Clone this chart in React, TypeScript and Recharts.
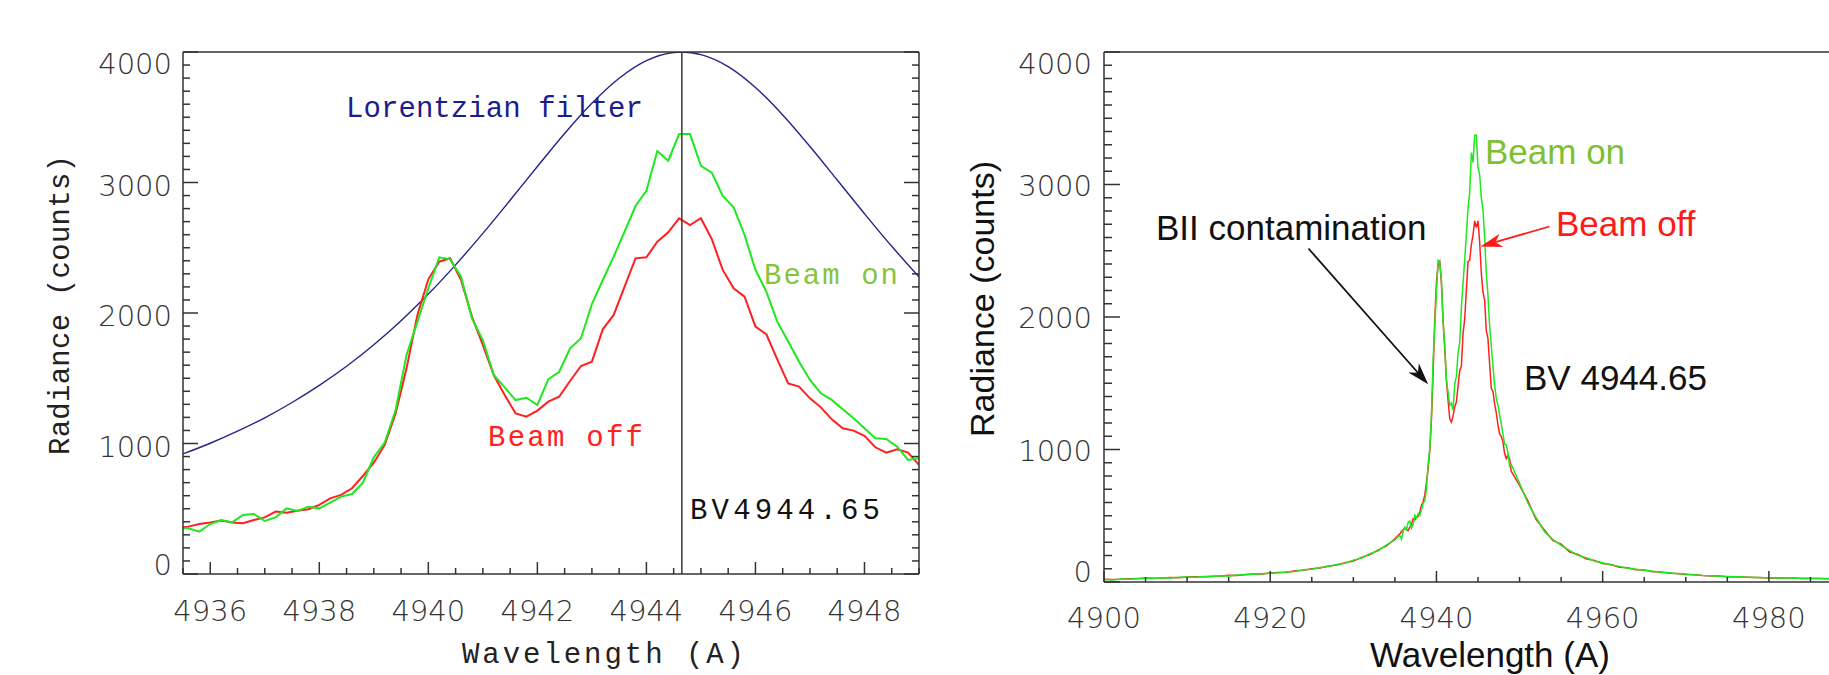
import React from 'react';
import { LineChart, Line, XAxis, YAxis, ReferenceLine } from 'recharts';

// ---- left panel: close-up, 0.2 A sampling ----
const zoomWl = [
  4935.5, 4935.6, 4935.8, 4936.0, 4936.2, 4936.4, 4936.6, 4936.8, 4937.0, 4937.2, 4937.4, 4937.6,
  4937.8, 4938.0, 4938.2, 4938.4, 4938.6, 4938.8, 4939.0, 4939.2, 4939.4, 4939.6, 4939.8, 4940.0,
  4940.2, 4940.4, 4940.6, 4940.8, 4941.0, 4941.2, 4941.4, 4941.6, 4941.8, 4942.0, 4942.2, 4942.4,
  4942.6, 4942.8, 4943.0, 4943.2, 4943.4, 4943.6, 4943.8, 4944.0, 4944.2, 4944.4, 4944.6, 4944.8,
  4945.0, 4945.2, 4945.4, 4945.6, 4945.8, 4946.0, 4946.2, 4946.4, 4946.6, 4946.8, 4947.0, 4947.2,
  4947.4, 4947.6, 4947.8, 4948.0, 4948.2, 4948.4, 4948.6, 4948.8, 4949.0,
];
const zoomBeamOn = [
  350, 350, 325, 383, 414, 396, 452, 460, 406, 434, 503, 483,
  516, 503, 547, 593, 613, 700, 894, 1007, 1257, 1678, 1934, 2190,
  2427, 2411, 2278, 1959, 1793, 1525, 1430, 1333, 1351, 1295, 1492, 1550,
  1729, 1806, 2069, 2253, 2432, 2623, 2820, 2937, 3241, 3167, 3371, 3371,
  3127, 3075, 2897, 2810, 2598, 2330, 2164, 1934, 1781, 1627, 1487, 1385,
  1334, 1262, 1193, 1117, 1040, 1035, 976, 874, 887,
];
const zoomBeamOff = [
  358, 363, 383, 394, 409, 394, 389, 414, 434, 478, 470, 485,
  496, 529, 580, 606, 657, 751, 853, 989, 1231, 1576, 1985, 2258,
  2393, 2419, 2253, 1972, 1755, 1525, 1372, 1231, 1206, 1252, 1321, 1359,
  1479, 1594, 1627, 1875, 1985, 2202, 2419, 2427, 2547, 2618, 2725, 2674,
  2726, 2565, 2330, 2189, 2125, 1896, 1837, 1645, 1461, 1436, 1346, 1277,
  1185, 1117, 1099, 1058, 971, 930, 956, 930, 836,
];

const filterWl = [
  4935.5, 4936, 4936.5, 4937, 4937.5, 4938, 4938.5, 4939, 4939.5, 4940, 4940.5, 4941, 4941.5,
  4942, 4942.5, 4943, 4943.5, 4944, 4944.5, 4944.65, 4945, 4945.5, 4946, 4946.5, 4947, 4947.5,
  4948, 4948.5, 4949,
];
const filterCurve = [
  920, 1002, 1094, 1197, 1314, 1445, 1592, 1757, 1941, 2145, 2369, 2610, 2864,
  3123, 3376, 3607, 3799, 3934, 3996, 4000, 3980, 3888, 3728, 3518, 3276, 3019,
  2761, 2511, 2277,
];

const lineCentre = 4944.65;

// ---- right panel: wings outside the close-up range ----
const blueWingWl = [
  4900, 4901, 4902, 4903, 4904, 4905, 4906, 4907, 4908, 4909, 4910, 4911, 4912, 4913, 4914, 4915, 4916, 4917,
  4918, 4919, 4920, 4921, 4922, 4923, 4924, 4925, 4926, 4927, 4928, 4929, 4930, 4931, 4932, 4933, 4934, 4935,
];
const blueWingOn = [
  18, 16, 22, 20, 26, 28, 27, 32, 30, 35, 37, 36, 42, 40, 47, 46, 52, 55,
  58, 62, 66, 70, 76, 80, 92, 96, 110, 116, 132, 142, 165, 180, 214, 236, 280, 318,
];
const blueWingOff = [
  20, 18, 20, 24, 24, 30, 28, 30, 34, 33, 38, 40, 39, 44, 45, 50, 49, 56,
  60, 60, 68, 72, 74, 85, 88, 100, 106, 120, 128, 146, 158, 186, 208, 242, 272, 326,
];
const redWingWl = [
  4950, 4951, 4952, 4953, 4954, 4955, 4956, 4957, 4958, 4959, 4960, 4961, 4962, 4963, 4964, 4965, 4966,
  4967, 4968, 4969, 4970, 4971, 4972, 4973, 4974, 4975, 4976, 4977, 4978, 4979, 4980, 4981, 4982, 4983,
  4984, 4985, 4986, 4987, 4988, 4989, 4990,
];
const redWingOn = [
  745, 596, 485, 380, 322, 276, 238, 202, 184, 158, 146, 128, 118, 104, 96, 88, 82,
  74, 70, 62, 60, 54, 50, 48, 44, 42, 40, 37, 36, 33, 33, 31, 30, 29,
  28, 28, 26, 26, 25, 24, 24,
];
const redWingOff = [
  730, 612, 470, 392, 314, 286, 228, 208, 176, 162, 140, 132, 112, 108, 92, 90, 78,
  76, 66, 64, 56, 55, 49, 46, 45, 40, 38, 38, 34, 34, 31, 32, 29, 30,
  27, 27, 27, 25, 26, 23, 24,
];

// arrows on the right panel (data coordinates)
const bIIArrow = [{ x: 4924.6, y: 2517 }, { x: 4939.0, y: 1492 }];
const beamOffArrow = [{ x: 4953.6, y: 2683 }, { x: 4945.3, y: 2532 }];

// ---- ticks ----
const zoomXMajor = [4936, 4938, 4940, 4942, 4944, 4946, 4948];
const fullXMajor = [4900, 4920, 4940, 4960, 4980];
const yMajor = [0, 1000, 2000, 3000, 4000];
const zoomXTicks = Array.from({ length: 28 }, (_, i) => 4935.5 + i * 0.5);
const fullXTicks = Array.from({ length: 19 }, (_, i) => 4900 + i * 5);
const yTicks = Array.from({ length: 41 }, (_, i) => i * 100);

const zoomTable = zoomWl.map((wl, i) => ({ wl, on: zoomBeamOn[i], off: zoomBeamOff[i] }));
const filterTable = filterWl.map((wl, i) => ({ wl, v: filterCurve[i] }));
const fullTable = [
  ...blueWingWl.map((wl, i) => ({ wl, on: blueWingOn[i], off: blueWingOff[i] })),
  ...zoomTable,
  ...redWingWl.map((wl, i) => ({ wl, on: redWingOn[i], off: redWingOff[i] })),
];

const TICK_FONT = '"DejaVu Sans ExtraLight", "DejaVu Sans", sans-serif';
const MONO = '"Liberation Mono", "DejaVu Sans Mono", monospace';
const SANS = '"Liberation Sans", Arial, sans-serif';
const AXIS = '#333';

const AxisTick = (props: any) => {
  const { x, y, payload, side, majors, majorLen, minorLen, showLabel, top, bottom, gap, drop } = props;
  const v = payload.value;
  const major = majors.includes(v);
  const len = major ? majorLen : minorLen;
  let x2 = x;
  let y2 = y;
  if (side === 'bottom') y2 = y - len;
  if (side === 'top') y2 = y + len;
  if (side === 'left') x2 = x + len;
  if (side === 'right') x2 = x - len;
  let label = null;
  if (showLabel && major) {
    if (side === 'bottom') {
      label = (
        <text x={x} y={y + drop} textAnchor="middle" fontFamily={TICK_FONT} fontWeight={200} fontSize={29} fill="#333">
          {v}
        </text>
      );
    } else if (side === 'left') {
      const by = Math.min(Math.max(y + drop, top + 22), bottom + 1);
      label = (
        <text x={x - gap} y={by} textAnchor="end" fontFamily={TICK_FONT} fontWeight={200} fontSize={29} fill="#333">
          {v}
        </text>
      );
    }
  }
  return (
    <g>
      <line x1={x} y1={y} x2={x2} y2={y2} stroke={AXIS} strokeWidth={1.5} />
      {label}
    </g>
  );
};

const Arrow = (p: any) => {
  const { x1, y1, x2, y2, stroke } = p;
  const a = Math.atan2(y2 - y1, x2 - x1);
  const L = 22;
  const W = 7;
  const bx = x2 - L * Math.cos(a);
  const by = y2 - L * Math.sin(a);
  const nx = x2 - L * 0.7 * Math.cos(a);
  const ny = y2 - L * 0.7 * Math.sin(a);
  const px = -Math.sin(a) * W;
  const py = Math.cos(a) * W;
  return (
    <g>
      <line x1={x1} y1={y1} x2={nx} y2={ny} stroke={stroke} strokeWidth={1.8} />
      <polygon points={`${x2},${y2} ${bx + px},${by + py} ${nx},${ny} ${bx - px},${by - py}`} fill={stroke} />
    </g>
  );
};

const axisLine = { stroke: AXIS, strokeWidth: 1.5 };

export default function App() {
  const lt = 52, lb = 574;
  const rt = 52, rb = 582;
  return (
    <div style={{ position: 'fixed', left: 0, top: 0, width: 1829, height: 675, overflow: 'hidden', background: '#fff' }}>
      <div style={{ position: 'absolute', left: 0, top: 0 }}>
        <LineChart width={930} height={675} data={zoomTable} margin={{ top: 51, right: 10, bottom: 100, left: 182 }}>
          <XAxis
            xAxisId="b" dataKey="wl" type="number" domain={[4935.5, 4949]} ticks={zoomXTicks} interval={0}
            height={1} tickSize={0} tickMargin={0} axisLine={axisLine} allowDataOverflow
            tick={<AxisTick side="bottom" majors={zoomXMajor} majorLen={12} minorLen={6} showLabel drop={47} />}
          />
          <XAxis
            xAxisId="t" orientation="top" type="number" domain={[4935.5, 4949]} ticks={zoomXTicks} interval={0}
            height={1} tickSize={0} tickMargin={0} axisLine={axisLine} allowDataOverflow
            tick={<AxisTick side="top" majors={zoomXMajor} majorLen={12} minorLen={6} />}
          />
          <YAxis
            yAxisId="l" type="number" domain={[0, 4000]} ticks={yTicks} interval={0} width={1}
            tickSize={0} tickMargin={0} axisLine={axisLine} allowDataOverflow
            tick={<AxisTick side="left" majors={yMajor} majorLen={15} minorLen={7} showLabel gap={11} drop={13} top={lt} bottom={lb} />}
          />
          <YAxis
            yAxisId="r" orientation="right" type="number" domain={[0, 4000]} ticks={yTicks} interval={0} width={1}
            tickSize={0} tickMargin={0} axisLine={axisLine} allowDataOverflow
            tick={<AxisTick side="right" majors={yMajor} majorLen={15} minorLen={7} />}
          />
          <Line xAxisId="b" yAxisId="l" data={filterTable} dataKey="v" type="monotone" stroke="#23238a" strokeWidth={1.4} dot={false} isAnimationActive={false} />
          <Line xAxisId="b" yAxisId="l" dataKey="off" type="linear" stroke="#ff2020" strokeWidth={2} dot={false} isAnimationActive={false} />
          <Line xAxisId="b" yAxisId="l" dataKey="on" type="linear" stroke="#1ee81e" strokeWidth={2} dot={false} isAnimationActive={false} />
          <ReferenceLine xAxisId="b" yAxisId="l" x={lineCentre} stroke="#444" strokeWidth={1.6} />
        </LineChart>
      </div>

      <div style={{ position: 'absolute', left: 930, top: 0 }}>
        <LineChart width={930} height={675} data={fullTable} margin={{ top: 51, right: 8, bottom: 92, left: 173 }}>
          <XAxis
            xAxisId="b" dataKey="wl" type="number" domain={[4900, 4990]} ticks={fullXTicks} interval={0}
            height={1} tickSize={0} tickMargin={0} axisLine={axisLine} allowDataOverflow
            tick={<AxisTick side="bottom" majors={fullXMajor} majorLen={11} minorLen={5} showLabel drop={46} />}
          />
          <XAxis
            xAxisId="t" orientation="top" type="number" domain={[4900, 4990]} ticks={fullXTicks} interval={0}
            height={1} tickSize={0} tickMargin={0} axisLine={axisLine} allowDataOverflow
            tick={<AxisTick side="top" majors={fullXMajor} majorLen={11} minorLen={5} />}
          />
          <YAxis
            yAxisId="l" type="number" domain={[0, 4000]} ticks={yTicks} interval={0} width={1}
            tickSize={0} tickMargin={0} axisLine={axisLine} allowDataOverflow
            tick={<AxisTick side="left" majors={yMajor} majorLen={16} minorLen={8} showLabel gap={12} drop={11} top={rt} bottom={rb - 1} />}
          />
          <Line xAxisId="b" yAxisId="l" dataKey="off" type="linear" stroke="#ff2020" strokeWidth={1.5} dot={false} isAnimationActive={false} />
          <Line xAxisId="b" yAxisId="l" dataKey="on" type="linear" stroke="#1ee81e" strokeWidth={1.5} dot={false} isAnimationActive={false} />
          <ReferenceLine xAxisId="b" yAxisId="l" segment={bIIArrow} stroke="#111" shape={<Arrow />} ifOverflow="visible" />
          <ReferenceLine xAxisId="b" yAxisId="l" segment={beamOffArrow} stroke="#ff1a1a" shape={<Arrow />} ifOverflow="visible" />
        </LineChart>
      </div>

      <svg width={1829} height={675} style={{ position: 'absolute', left: 0, top: 0, pointerEvents: 'none' }}>
        {/* left panel labels */}
        <text x={346} y={117} fontFamily={MONO} fontSize={29} fill="#1c1c8c" textLength={297} lengthAdjust="spacing">Lorentzian filter</text>
        <text x={764} y={284} fontFamily={MONO} fontSize={29} fill="#86c440" textLength={134} lengthAdjust="spacing">Beam on</text>
        <text x={488} y={446} fontFamily={MONO} fontSize={29} fill="#ff2020" textLength={155} lengthAdjust="spacing">Beam off</text>
        <text x={690} y={519} fontFamily={MONO} fontSize={29} fill="#111" textLength={190} lengthAdjust="spacing">BV4944.65</text>
        <text x={462} y={663} fontFamily={MONO} fontSize={29} fill="#222" textLength={282} lengthAdjust="spacing">Wavelength (A)</text>
        <text x={0} y={0} transform="translate(69,305) rotate(-90)" textAnchor="middle" fontFamily={MONO} fontSize={29} fill="#222" textLength={300} lengthAdjust="spacing">Radiance (counts)</text>

        {/* right panel labels */}
        <text x={1156} y={240} fontFamily={SANS} fontSize={35} fill="#111">BII contamination</text>
        <text x={1485} y={164} fontFamily={SANS} fontSize={35} fill="#7cc132">Beam on</text>
        <text x={1556} y={236} fontFamily={SANS} fontSize={35} fill="#ff1a1a">Beam off</text>
        <text x={1524} y={390} fontFamily={SANS} fontSize={35} fill="#111">BV 4944.65</text>
        <text x={1490} y={667} textAnchor="middle" fontFamily={SANS} fontSize={35} fill="#111">Wavelength (A)</text>
        <text x={0} y={0} transform="translate(994,299) rotate(-90)" textAnchor="middle" fontFamily={SANS} fontSize={34} fill="#111">Radiance (counts)</text>
      </svg>
    </div>
  );
}
